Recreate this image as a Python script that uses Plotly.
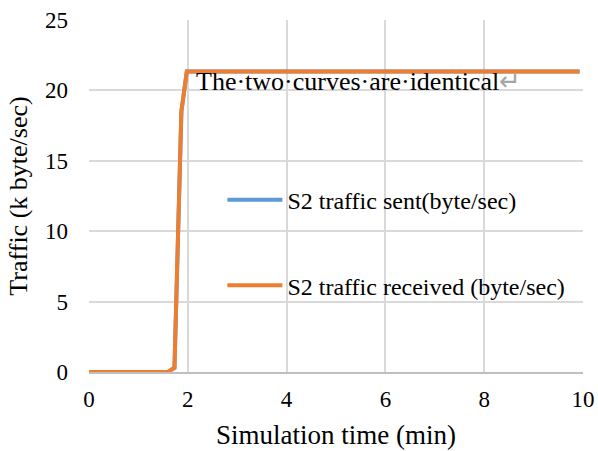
import plotly.graph_objects as go

time_min = [0, 0.5, 1.0, 1.5, 1.6, 1.73, 1.87, 1.98, 3, 4, 5, 6, 7, 8, 9, 9.93]
sent_kbps = [0, 0, 0, 0, 0, 0.3, 18.5, 21.35, 21.35, 21.35, 21.35, 21.35, 21.35, 21.35, 21.35, 21.35]
recv_kbps = [0, 0, 0, 0, 0, 0.3, 18.5, 21.35, 21.35, 21.35, 21.35, 21.35, 21.35, 21.35, 21.35, 21.35]
x_ticks = [0, 2, 4, 6, 8, 10]
y_ticks = [0, 5, 10, 15, 20, 25]

FONT = "Liberation Serif"
BLUE = "#5B9BD5"
ORANGE = "#ED7D31"

fig = go.Figure()
fig.add_trace(go.Scatter(x=time_min, y=sent_kbps, mode="lines",
                         name="S2 traffic sent(byte/sec)", showlegend=True,
                         line=dict(color=BLUE, width=4), legend="legend"))
fig.add_trace(go.Scatter(x=time_min, y=recv_kbps, mode="lines",
                         name="S2 traffic received (byte/sec)", showlegend=True,
                         line=dict(color=ORANGE, width=4), legend="legend2"))

fig.add_annotation(x=2.12, y=20.6, xref="x", yref="y", xanchor="left", yanchor="middle",
                   text="The·two·curves·are·identical<span style='color:#a6a6a6'>↵</span>",
                   showarrow=False, font=dict(family=FONT, size=26, color="black"))

legend_style = dict(font=dict(family=FONT, size=24, color="black"), bgcolor="rgba(0,0,0,0)",
                    itemwidth=55, xanchor="left", yanchor="middle", borderwidth=0, visible=True)

fig.update_layout(
    width=598, height=451,
    margin=dict(l=89, r=15, t=20, b=79),
    paper_bgcolor="white", plot_bgcolor="white",
    showlegend=True,
    font=dict(family=FONT, size=23, color="black"),
    legend=dict(x=0.27, y=0.488, **legend_style),
    legend2=dict(x=0.27, y=0.245, **legend_style),
    xaxis=dict(range=[0, 10], tickvals=x_ticks, showgrid=True, gridcolor="#d9d9d9", gridwidth=2,
               zeroline=False, showline=True, linecolor="#bfbfbf", linewidth=2,
               tickfont=dict(family=FONT, size=23),
               ticklabelstandoff=5, automargin=False,
               title=dict(text="Simulation time (min)", font=dict(family=FONT, size=27), standoff=15)),
    yaxis=dict(range=[0, 25], tickvals=y_ticks, showgrid=True, gridcolor="#d9d9d9", gridwidth=2,
               zeroline=False, showline=False, ticklabelstandoff=20, automargin=False,
               tickfont=dict(family=FONT, size=23),
               title=dict(text="Traffic (k byte/sec)", font=dict(family=FONT, size=26), standoff=9)),
)

fig.write_html("out.html")
